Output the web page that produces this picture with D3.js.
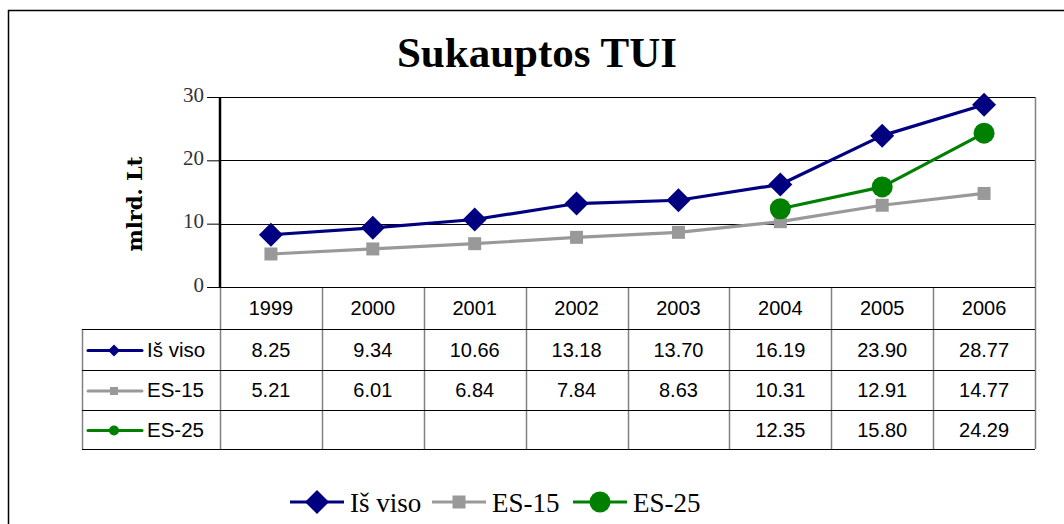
<!DOCTYPE html>
<html><head><meta charset="utf-8">
<script src="https://cdn.jsdelivr.net/npm/d3@7"></script>
<style>body{margin:0;background:#fff}svg{display:block}</style>
</head><body>
<svg id="c" width="1064" height="524"></svg>
<script>
const years = ["1999","2000","2001","2002","2003","2004","2005","2006"];
const isViso = [8.25,9.34,10.66,13.18,13.70,16.19,23.90,28.77];
const es15 = [5.21,6.01,6.84,7.84,8.63,10.31,12.91,14.77];
const es25 = [null,null,null,null,null,12.35,15.80,24.29];
const yTicks = [0,10,20,30];
const seriesNames = ["Iš viso","ES-15","ES-25"];
const seriesColors = ["#000080","#999999","#008000"];
const series = [isViso, es15, es25];

const svg = d3.select("#c");
const L = 220, R = 1035, T = 97, B = 287;
const x = d3.scaleBand().domain(years).range([L, R]);
const y = d3.scaleLinear().domain([0,30]).range([B, T]);
const serif = "'Liberation Serif','Times New Roman',serif";
const dserif = "'DejaVu Serif',serif";
const sans = "'Liberation Sans',Arial,sans-serif";

// outer frame
svg.append("line").attr("x1",8.5).attr("x2",8.5).attr("y1",10).attr("y2",524).attr("stroke","#000").attr("stroke-width",1.5);
svg.append("line").attr("x1",8).attr("x2",1064).attr("y1",10.5).attr("y2",10.5).attr("stroke","#000").attr("stroke-width",1.5);

// title
svg.append("text").attr("x",537).attr("y",67).attr("text-anchor","middle")
  .attr("font-family",serif).attr("font-weight","bold").attr("font-size",43).text("Sukauptos TUI");

// grid
svg.append("g").selectAll("line").data(yTicks.filter(d=>d>0)).join("line")
  .attr("x1",L).attr("x2",R).attr("y1",d=>Math.round(y(d))+0.5).attr("y2",d=>Math.round(y(d))+0.5)
  .attr("stroke","#000").attr("stroke-width",1);

// y axis
const ya = svg.append("g").attr("transform",`translate(${L},0)`)
  .call(d3.axisLeft(y).tickValues(yTicks).tickSize(13).tickPadding(3).tickFormat(d3.format("d")));
ya.select(".domain").remove();
ya.selectAll("line").attr("stroke","#000");
ya.selectAll("text").attr("font-family",serif).attr("font-size",21).attr("fill","#333").attr("dy","0.2em");
svg.append("line").attr("x1",L).attr("x2",L).attr("y1",T).attr("y2",B).attr("stroke","#000").attr("stroke-width",2.5);

svg.append("text").attr("transform","translate(142,204) rotate(-90)").attr("text-anchor","middle")
  .attr("font-family",dserif).attr("font-weight","bold").attr("font-size",21).text("mlrd. Lt");

// table
const rows = [287, 329, 370, 410, 449];
const tabL = 82;
const vx = years.map(d=>x(d)).concat([R]);
svg.append("g").selectAll("line").data(vx).join("line")
  .attr("x1",d=>Math.round(d)+0.5).attr("x2",d=>Math.round(d)+0.5)
  .attr("y1",B).attr("y2",rows[4])
  .attr("stroke","#808080").attr("stroke-width",1.5);
svg.append("line").attr("x1",R+0.5).attr("x2",R+0.5).attr("y1",T).attr("y2",B).attr("stroke","#808080").attr("stroke-width",1.5);
svg.append("line").attr("x1",tabL+0.5).attr("x2",tabL+0.5).attr("y1",rows[1]).attr("y2",rows[4]).attr("stroke","#808080").attr("stroke-width",1.5);
svg.append("line").attr("x1",L).attr("x2",R).attr("y1",T+0.5).attr("y2",T+0.5).attr("stroke","#000");
svg.append("line").attr("x1",L-13).attr("x2",R).attr("y1",B+0.5).attr("y2",B+0.5).attr("stroke","#000").attr("stroke-width",1.2);
svg.append("g").selectAll("line").data(rows.slice(1)).join("line")
  .attr("x1",tabL).attr("x2",R).attr("y1",d=>d+0.5).attr("y2",d=>d+0.5).attr("stroke","#000").attr("stroke-width",1.2);

// header
svg.append("g").selectAll("text").data(years).join("text")
  .attr("x",d=>x(d)+x.bandwidth()/2).attr("y",(rows[0]+rows[1])/2+7)
  .attr("text-anchor","middle").attr("font-family",sans).attr("font-size",20).text(d=>d);

function diamond(g,color,w){
  g.append("path").attr("d",`M0,${-w/2}L${w/2},0L0,${w/2}L${-w/2},0Z`).attr("fill",color);
}
function square(g,color,s){
  g.append("rect").attr("x",-s/2).attr("y",-s/2).attr("width",s).attr("height",s).attr("fill",color);
}
function circle(g,color,d){
  g.append("circle").attr("r",d/2).attr("fill",color);
}
function mark(g, si, big){
  if(si===0) diamond(g,seriesColors[0], big?24:12);
  else if(si===1) square(g,seriesColors[1], big?13:8);
  else circle(g,seriesColors[2], big?21:10);
}

series.forEach((s,si)=>{
  const yc = (rows[si+1]+rows[si+2])/2;
  const g = svg.append("g");
  g.append("text").attr("x",147).attr("y",yc+7).attr("font-family",sans).attr("font-size",20.5).text(seriesNames[si]);
  g.append("line").attr("x1",88).attr("x2",142).attr("y1",yc+1).attr("y2",yc+1).attr("stroke",seriesColors[si]).attr("stroke-width",3).attr("stroke-linecap","round");
  mark(g.append("g").attr("transform",`translate(114,${yc+1})`), si, false);
  g.selectAll("text.v").data(s).join("text").attr("class","v")
    .attr("x",(d,i)=>x(years[i])+x.bandwidth()/2).attr("y",yc+7)
    .attr("text-anchor","middle").attr("font-family",sans).attr("font-size",20)
    .text(d=> d==null ? "" : d.toFixed(2));
});

// lines
const line = d3.line().defined(d=>d[1]!=null).x(d=>x(d[0])+x.bandwidth()/2).y(d=>y(d[1]));
series.forEach((s,si)=>{
  const pts = years.map((yr,i)=>[yr,s[i]]);
  svg.append("path").attr("d",line(pts)).attr("fill","none").attr("stroke",seriesColors[si]).attr("stroke-width",3.2).attr("stroke-linejoin","round");
});
series.forEach((s,si)=>{
  years.forEach((yr,i)=>{
    if(s[i]==null) return;
    mark(svg.append("g").attr("transform",`translate(${x(yr)+x.bandwidth()/2},${y(s[i])})`), si, true);
  });
});

// bottom legend
const legX = [290, 432, 573];
seriesNames.forEach((n,si)=>{
  const g = svg.append("g").attr("transform",`translate(${legX[si]},502)`);
  g.append("line").attr("x1",0).attr("x2",54).attr("y1",0).attr("y2",0).attr("stroke",seriesColors[si]).attr("stroke-width",3.2);
  mark(g.append("g").attr("transform","translate(27,0)"), si, true);
  g.append("text").attr("x",60).attr("y",10).attr("font-family",serif).attr("font-size",27).text(n);
});
</script>
</body></html>
